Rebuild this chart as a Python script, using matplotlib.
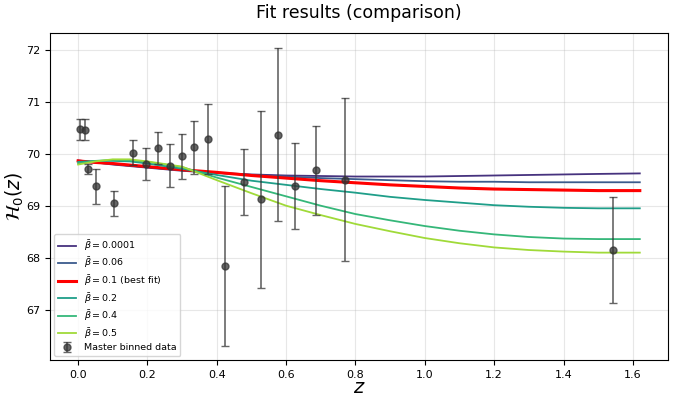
import numpy as np
import matplotlib
matplotlib.use("Agg")
import matplotlib.pyplot as plt

# binned data
z_data = [0.005, 0.019, 0.029, 0.053, 0.104, 0.158, 0.195, 0.229, 0.264, 0.301,
          0.334, 0.375, 0.425, 0.478, 0.528, 0.576, 0.626, 0.686, 0.771, 1.544]
h_data = [70.48, 70.47, 69.71, 69.38, 69.06, 70.03, 69.81, 70.12, 69.78, 69.96,
          70.13, 70.29, 67.85, 69.47, 69.13, 70.37, 69.39, 69.69, 69.51, 68.16]
h_err = [0.20, 0.20, 0.10, 0.33, 0.24, 0.24, 0.31, 0.31, 0.42, 0.43,
         0.51, 0.68, 1.54, 0.63, 1.70, 1.66, 0.82, 0.85, 1.57, 1.02]

# model curves
z_model = [0.0, 0.05, 0.1, 0.15, 0.2, 0.3, 0.4, 0.5, 0.6, 0.7, 0.8, 0.9,
           1.0, 1.1, 1.2, 1.3, 1.4, 1.5, 1.62]
h_b0001 = [69.88, 69.84, 69.80, 69.77, 69.74, 69.68, 69.64, 69.61, 69.59, 69.58,
           69.57, 69.57, 69.57, 69.58, 69.59, 69.60, 69.61, 69.62, 69.63]
h_b006 = [69.87, 69.84, 69.81, 69.78, 69.75, 69.69, 69.64, 69.60, 69.57, 69.54,
          69.52, 69.50, 69.48, 69.47, 69.47, 69.46, 69.46, 69.46, 69.46]
h_b01 = [69.87, 69.84, 69.82, 69.79, 69.76, 69.70, 69.65, 69.59, 69.54, 69.49,
         69.45, 69.41, 69.38, 69.35, 69.33, 69.32, 69.31, 69.30, 69.30]
h_b02 = [69.85, 69.87, 69.87, 69.86, 69.82, 69.72, 69.60, 69.49, 69.41, 69.33,
         69.26, 69.18, 69.12, 69.07, 69.02, 68.99, 68.97, 68.96, 68.96]
h_b04 = [69.82, 69.87, 69.89, 69.88, 69.85, 69.75, 69.55, 69.37, 69.19, 69.01,
         68.85, 68.73, 68.62, 68.53, 68.46, 68.41, 68.38, 68.37, 68.37]
h_b05 = [69.80, 69.86, 69.90, 69.90, 69.86, 69.76, 69.50, 69.25, 69.01, 68.83,
         68.66, 68.52, 68.39, 68.29, 68.21, 68.16, 68.13, 68.11, 68.11]

fig, ax = plt.subplots(figsize=(6.76, 4.0), dpi=100)

ax.plot(z_model, h_b0001, color='#46327e', lw=1.3, label=r'$\bar{\beta} = 0.0001$')
ax.plot(z_model, h_b006, color='#3b5b8c', lw=1.3, label=r'$\bar{\beta} = 0.06$')
ax.plot(z_model, h_b01, color='red', lw=2.2, label=r'$\bar{\beta} = 0.1$ (best fit)')
ax.plot(z_model, h_b02, color='#1f9e89', lw=1.3, label=r'$\bar{\beta} = 0.2$')
ax.plot(z_model, h_b04, color='#35b779', lw=1.3, label=r'$\bar{\beta} = 0.4$')
ax.plot(z_model, h_b05, color='#a0da39', lw=1.3, label=r'$\bar{\beta} = 0.5$')

ax.errorbar(z_data, h_data, yerr=h_err, fmt='o', color='#333333', ms=5,
            ecolor='#333333', elinewidth=1.2, capsize=3, alpha=0.75,
            label='Master binned data', zorder=3)

ax.set_ylim(66.05, 72.32)
ax.set_xticks(np.arange(0, 1.61, 0.2))
ax.tick_params(labelsize=8)
ax.grid(True, alpha=0.3)

ax.set_xlabel('$z$', fontsize=14, labelpad=-1)
ax.set_ylabel(r'$\mathcal{H}_0(z)$', fontsize=13.5, labelpad=0)
ax.set_title('Fit results (comparison)', fontsize=12.5, pad=11)
ax.legend(loc='lower left', fontsize=6.8, labelspacing=0.28, borderaxespad=0.4,
          handletextpad=0.8)

fig.subplots_adjust(left=0.074, right=0.988, bottom=0.1, top=0.917)
fig.savefig('out.png', dpi=100)
